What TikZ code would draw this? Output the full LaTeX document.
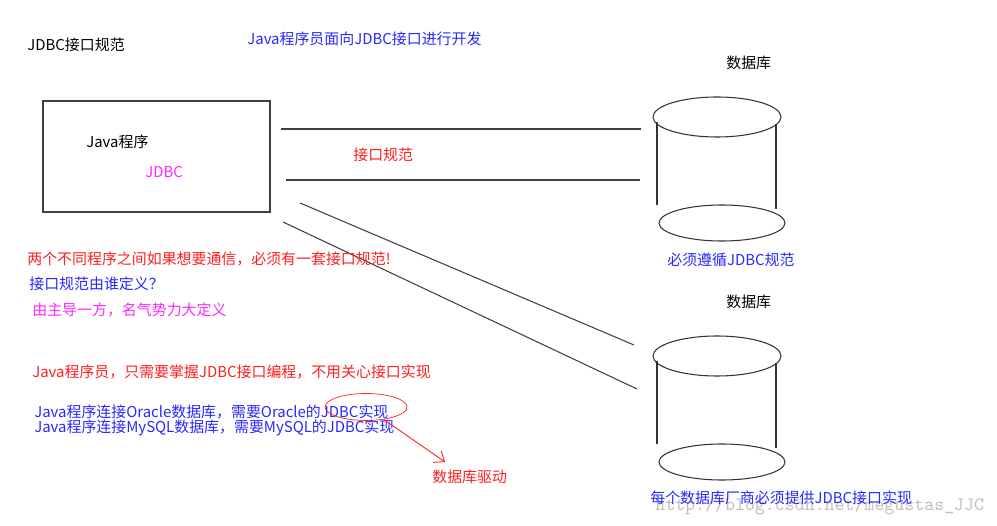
\documentclass[tikz,border=0pt]{standalone}
\usepackage{fontspec}
\setmainfont{Noto Sans CJK SC}
\usetikzlibrary{positioning,arrows.meta,shapes.geometric,calc}

\definecolor{noteblue}{RGB}{40,40,255}
\definecolor{notered}{RGB}{255,30,30}
\definecolor{notepink}{RGB}{255,40,255}

\begin{document}
\begin{tikzpicture}[x=0.02cm,y=-0.02cm,font=\fontsize{8.5}{10}\selectfont,
  txt/.style={anchor=west,inner sep=0pt,text height=7pt,text depth=1.5pt},
  wire/.style={draw=black!75,line width=0.6pt},
  dbpart/.style={draw=black!80,line width=0.6pt}]
  \useasboundingbox (0,0) rectangle (997,526);

  % watermark
  \node[txt,text=black!25,font=\ttfamily\fontsize{10.8}{12}\selectfont] (mark) at (655,506) {http://blog.csdn.net/megustas\_JJC};

  % titles
  \node[txt] (title) at (27,46) {JDBC接口规范};
  \node[txt,text=noteblue] (dev) at (247,40) {Java程序员面向JDBC接口进行开发};

  % java program box
  \draw[wire] (43,101) rectangle (270,212);
  \node[txt] (prog) at (86,143) {Java程序};
  \node[txt,text=notepink] (jdbc) at (145,173) {JDBC};

  % the two databases
  \foreach \n/\y in {top/0, low/239} {
    \draw[dbpart] (717,117+\y) ellipse [x radius=64, y radius=20];
    \draw[dbpart] (657,122+\y) -- (657,205+\y);
    \draw[dbpart] (776,124+\y) -- (776,209+\y);
    \draw[dbpart] (722,223+\y) ellipse [x radius=63, y radius=18];
    \node[txt] (db\n) at (726,64+\y) {数据库};
  }
  \node[txt,text=noteblue] (dbtopnote) at (667,261) {必须遵循JDBC规范};
  \node[txt,text=noteblue] (dblownote) at (650,499) {每个数据库厂商必须提供JDBC接口实现};

  % connectors between program and databases
  \coordinate (a1) at (281,129);  \coordinate (b1) at (641,129);
  \coordinate (a2) at (286,180);  \coordinate (b2) at (640,180);
  \coordinate (a3) at (300,203);  \coordinate (b3) at (634,345);
  \coordinate (a4) at (283,222);  \coordinate (b4) at (637,389);
  \draw[wire] (a1) -- (b1);
  \draw[wire] (a2) -- (b2);
  \draw[wire] (a3) -- (b3);
  \draw[wire] (a4) -- (b4);
  \node[txt,text=notered] (spec) at (353,156) {接口规范};

  % notes
  \node[txt,text=notered] (n1) at (27,260) {两个不同程序之间如果想要通信，必须有一套接口规范!};
  \node[txt,text=noteblue] (n2) at (29,285) {接口规范由谁定义？};
  \node[txt,text=notepink] (n3) at (32,311) {由主导一方，名气势力大定义};
  \node[txt,text=notered] (n4) at (32,373) {Java程序员，只需要掌握JDBC接口编程，不用关心接口实现};
  \node[txt,text=noteblue] (n5) at (34,413) {Java程序连接Oracle数据库，需要Oracle的JDBC实现};
  \node[txt,text=noteblue] (n6) at (34,428) {Java程序连接MySQL数据库，需要MySQL的JDBC实现};

  % driver remark
  \node[draw=notered,ellipse,minimum width=1.64cm,minimum height=0.54cm,inner sep=0pt] (ring) at (366,407) {};
  \node[txt,text=notered] (driver) at (432,478) {数据库驱动};
  \coordinate (tip) at (445,462);
  \draw[notered,line width=0.5pt,-{Straight Barb[length=5pt,width=8pt]}] (ring.-35) -- (tip);
\end{tikzpicture}
\end{document}
